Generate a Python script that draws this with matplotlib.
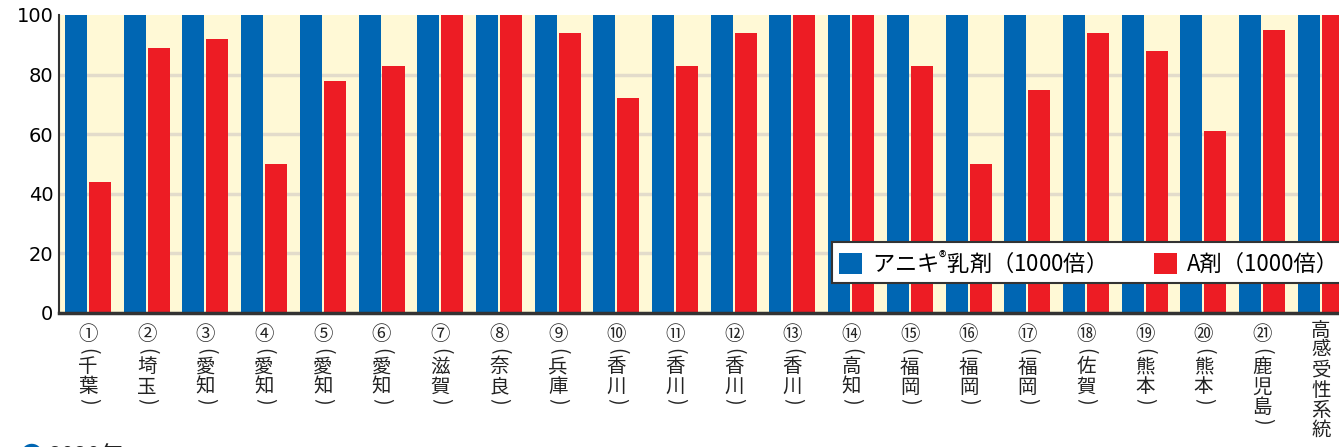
import numpy as np
import matplotlib.pyplot as plt
from matplotlib.patches import Patch

plt.rcParams['font.family'] = ['Noto Sans CJK JP', 'DejaVu Sans']

# データ
groups = ['①', '②', '③', '④', '⑤', '⑥', '⑦', '⑧', '⑨', '⑩', '⑪',
          '⑫', '⑬', '⑭', '⑮', '⑯', '⑰', '⑱', '⑲', '⑳', '㉑', '']
places = ['千葉', '埼玉', '愛知', '愛知', '愛知', '愛知', '滋賀', '奈良', '兵庫', '香川', '香川',
          '香川', '香川', '高知', '福岡', '福岡', '福岡', '佐賀', '熊本', '熊本', '鹿児島', '高感受性系統']
aniki = [100] * 22
agent_a = [44, 89, 92, 50, 78, 83, 100, 100, 94, 72, 83,
           94, 100, 100, 83, 50, 75, 94, 88, 61, 95, 100]
yticks = [0, 20, 40, 60, 80, 100]
series_names = ['アニキ$^{\\mathregular{®}}$乳剤（1000倍）', 'A剤（1000倍）']

BLUE = '#0066b3'
RED = '#ed1c24'
CREAM = '#fff9d6'
GRID = '#e3dccb'
TXT = '#222222'

fig = plt.figure(figsize=(13.39, 4.47), dpi=100)
ax = fig.add_axes([59 / 1339, 1 - 313 / 447, 1 - 59 / 1339, 298 / 447])
ax.set_facecolor(CREAM)

x = np.arange(len(places))
w = 0.375
ax.bar(x - 0.204, aniki, width=w, color=BLUE, zorder=3)
ax.bar(x + 0.204, agent_a, width=w, color=RED, zorder=3)

ax.set_xlim(-0.494, 21.31)
ax.set_ylim(0, 100)
ax.set_yticks(yticks)
ax.set_yticklabels([str(v) for v in yticks], fontsize=14, family=['DejaVu Sans'])
for v in yticks[1:-1]:
    ax.axhline(v, color=GRID, lw=2.5, zorder=1)

ax.set_xticks(x)
ax.set_xticklabels([])
ax.tick_params(axis='both', length=0, pad=4)


def put(xi, dy, s, rot=0, size=14):
    # 軸の下から dy ピクセル下に1文字置く
    ax.annotate(s, xy=(xi, 0), xycoords=('data', 'axes fraction'),
                xytext=(0, -dy), textcoords='offset pixels',
                ha='center', va='center', fontsize=size, rotation=rot,
                color=TXT, annotation_clip=False)


# 縦書きラベル
for xi, num, place in zip(x, groups, places):
    if num == '':
        for k, ch in enumerate(place):
            put(xi, 17 + 20 * k, ch)
        continue
    put(xi, 21, num)
    put(xi, 38, '(', rot=-90)
    for k, ch in enumerate(place):
        put(xi, 54 + 20 * k, ch)
    put(xi, 54 + 20 * (len(place) - 1) + 14, ')', rot=-90)

for side in ['top', 'right']:
    ax.spines[side].set_visible(False)
ax.spines['left'].set_color('#333333')
ax.spines['left'].set_linewidth(1.5)
ax.spines['bottom'].set_color('#333333')
ax.spines['bottom'].set_linewidth(2.5)
ax.spines['left'].set_zorder(4)
ax.spines['bottom'].set_zorder(4)

handles = [Patch(facecolor=BLUE, edgecolor='none'), Patch(facecolor=RED, edgecolor='none')]
leg = ax.legend(handles, series_names, loc='upper left', bbox_to_anchor=(0.604, 0.237),
                ncol=2, fontsize=16, frameon=True, fancybox=False, framealpha=1,
                facecolor='white', handlelength=1.05, handleheight=1.05,
                handletextpad=0.45, columnspacing=2.7,
                borderpad=0.3, borderaxespad=0)
leg.get_frame().set_edgecolor('#333333')
leg.get_frame().set_linewidth(1.5)
leg.set_zorder(5)

fig.text(0.015, 0.004, '●', color=BLUE, fontsize=17, va='top')
fig.text(0.036, 0.004, '2020年', color=TXT, fontsize=17, va='top')

fig.savefig('out.png', dpi=100)
